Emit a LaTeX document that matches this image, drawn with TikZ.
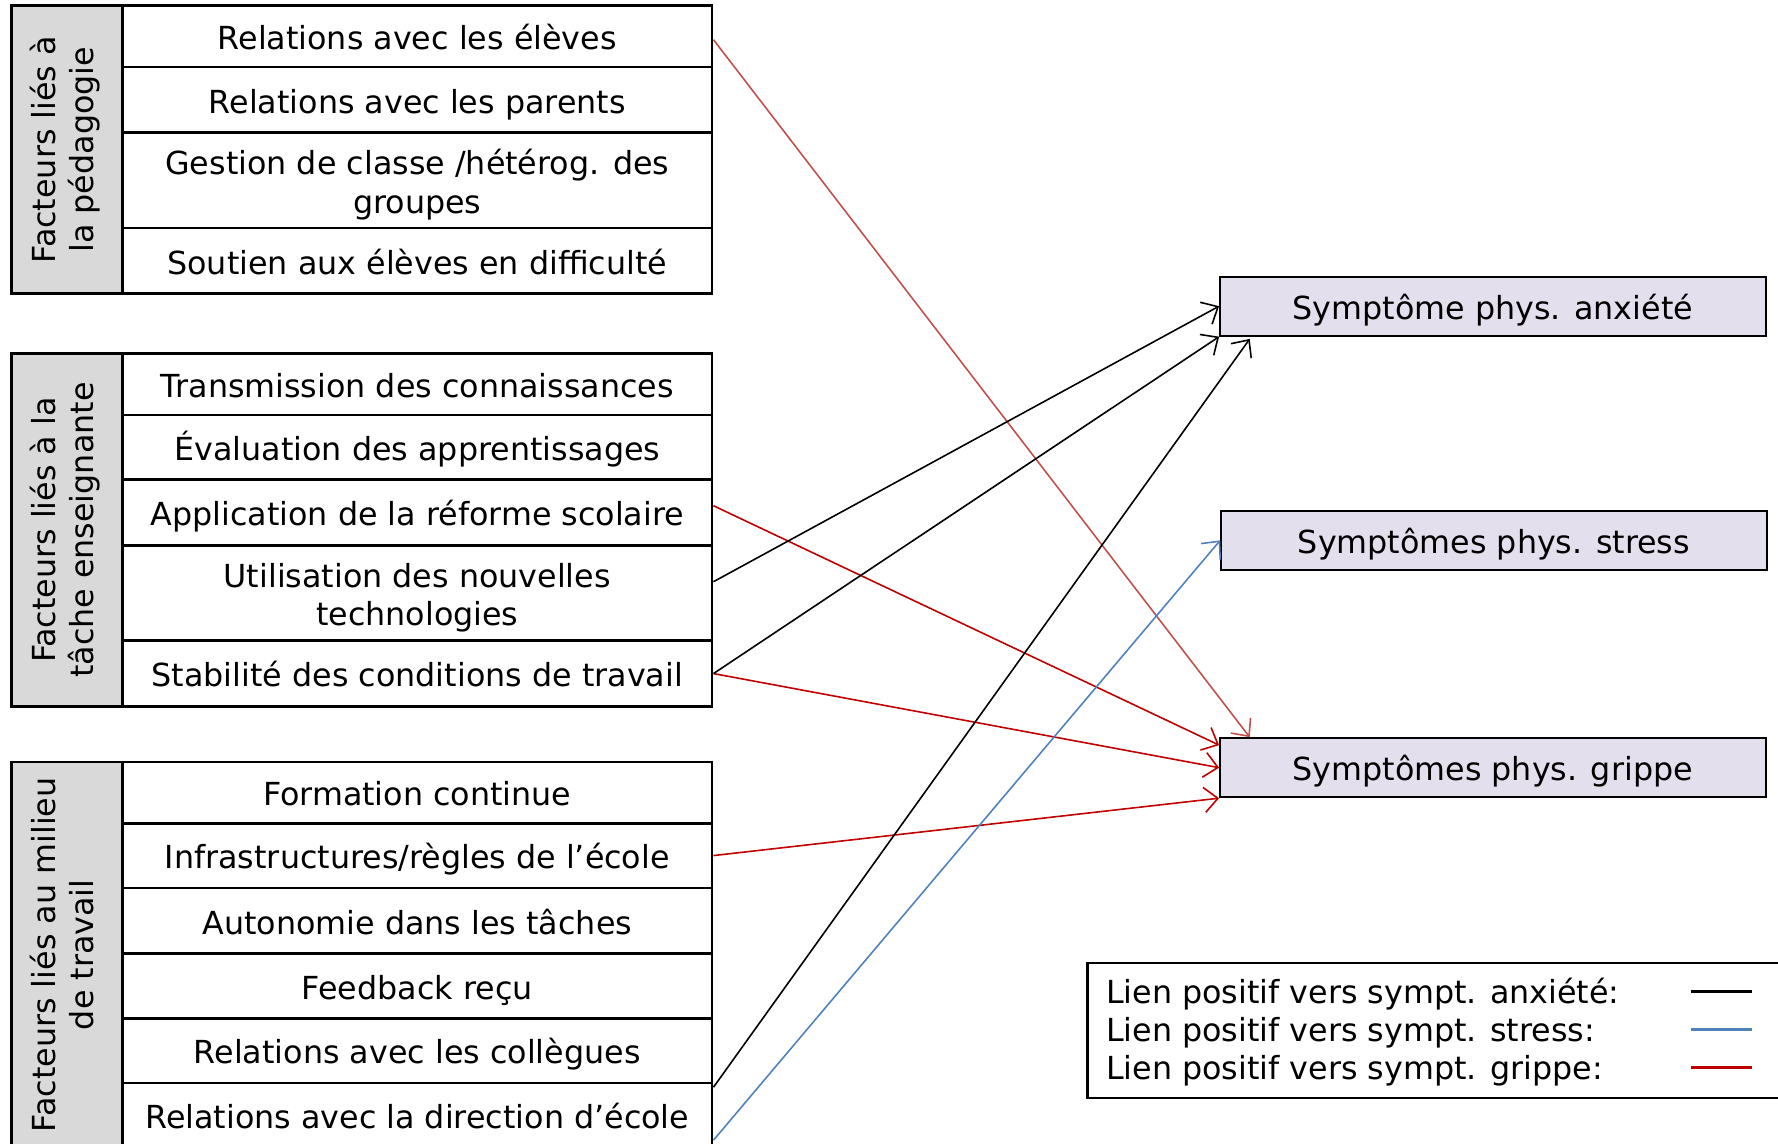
\documentclass[tikz,border=0pt]{standalone}
\usepackage{fontspec}
\setmainfont{DejaVu Sans}
\usepackage{graphicx}
\usetikzlibrary{arrows.meta,calc}
\definecolor{grayfill}{HTML}{D9D9D9}
\definecolor{lav}{HTML}{E4DFEC}
\definecolor{darkred}{HTML}{C00000}
\definecolor{lightred}{HTML}{C0504D}
\definecolor{linkblue}{HTML}{4F81BD}
\newcommand\rowat[5][]{\node[rowbox, #1, minimum height={(#4-#3)*0.5pt}] (#2) at (368,{(#3+#4)/2}) {#5};}
\newcommand\grpat[4]{\node[grouplabel, minimum height={(#3-#2)*0.5pt}] (#1) at (59,{(#2+#3)/2}) {\rotatebox{90}{\begin{tabular}{@{}c@{}}#4\end{tabular}}};}
\newcommand\twol[2]{\raisebox{-2.7pt}[\height][\depth]{\begin{tabular}{@{}c@{}}#1\\#2\end{tabular}}}
\begin{document}
\begin{tikzpicture}[x=0.5pt,y=-0.5pt, font=\fontsize{14pt}{16.8pt}\selectfont,
 rowbox/.style={draw, line width=1.2pt, minimum width=260pt, inner sep=0pt, text height=11.7pt, text depth=0pt},
 twoline/.style={text height={}, text depth={}},
 grouplabel/.style={draw, line width=1.2pt, fill=grayfill, minimum width=49pt, inner sep=0pt},
 symbox/.style={draw, line width=0.9pt, fill=lav, minimum width=240.5pt, minimum height=26pt, inner sep=0pt, text height=11.7pt, text depth=0pt},
 link/.style={line width=0.7pt, -{Straight Barb[length=6pt,width=11pt]}},
 legline/.style={line width=1.3pt},
 legtext/.style={anchor=base west, inner sep=0pt},
]
\useasboundingbox (0,0) rectangle (1568,1008);
\clip (0,0) rectangle (1568,1008);

% group 1
\grpat{g1}{5}{259}{Facteurs liés à\\la pédagogie}
\rowat{r11}{5}{59}{Relations avec les élèves}
\rowat{r12}{59}{117}{Relations avec les parents}
\rowat[twoline]{r13}{117}{201}{\twol{Gestion de classe /hétérog. des}{groupes}}
\rowat{r14}{201}{259}{Soutien aux élèves en difficulté}

% group 2
\grpat{g2}{312}{623}{Facteurs liés à la\\tâche enseignante}
\rowat{r21}{312}{366}{Transmission des connaissances}
\rowat{r22}{366}{423}{Évaluation des apprentissages}
\rowat{r23}{423}{481}{Application de la réforme scolaire}
\rowat[twoline]{r24}{481}{565}{\twol{Utilisation des nouvelles}{technologies}}
\rowat{r25}{565}{623}{Stabilité des conditions de travail}

% group 3
\grpat{g3}{672}{1012}{Facteurs liés au milieu\\de travail}
\rowat{r31}{672}{726}{Formation continue}
\rowat{r32}{726}{783}{Infrastructures/règles de l’école}
\rowat{r33}{783}{841}{Autonomie dans les tâches}
\rowat{r34}{841}{898}{Feedback reçu}
\rowat{r35}{898}{955}{Relations avec les collègues}
\rowat{r36}{955}{1012}{Relations avec la direction d’école}

% symptoms
\node[symbox] (anx) at (1316.5,270) {Symptôme phys. anxiété};
\node[symbox] (str) at (1317.5,476.5) {Symptômes phys. stress};
\node[symbox] (gri) at (1316.5,677) {Symptômes phys. grippe};

% links
\draw[link, lightred] ([yshift=-1.5pt]r11.east) -- ($(gri.north west)+(27,0)$);
\draw[link, darkred] ([yshift=3pt]r23.east) -- ($(gri.north west)+(0,7)$);
\draw[link, darkred] (r25.east) -- (gri.west);
\draw[link, darkred] (r32.east) -- (gri.south west);
\draw[link, black] ([yshift=5pt]r24.east) -- (anx.west);
\draw[link, black] (r25.east) -- (anx.south west);
\draw[link, black] ($(r36.north east)+(0,5)$) -- ($(anx.south west)+(27,2)$);
\draw[link, linkblue] ($(r36.east)+(0,22)$) -- (str.west);

% legend
\node[draw, line width=1pt, minimum width=316pt, minimum height=59.5pt, anchor=north west, inner sep=0pt] (legend) at (958,848) {};
\node[legtext] (t1) at (975,885) {Lien positif vers sympt. anxiété:};
\node[legtext] (t2) at (975,918.5) {Lien positif vers sympt. stress:};
\node[legtext] (t3) at (975,952) {Lien positif vers sympt. grippe:};
\coordinate (a1) at (1491,874); \coordinate (b1) at (1545,874);
\coordinate (a2) at (1491,908); \coordinate (b2) at (1545,908);
\coordinate (a3) at (1491,941); \coordinate (b3) at (1545,941);
\draw[legline, black] (a1) -- (b1);
\draw[legline, linkblue] (a2) -- (b2);
\draw[legline, darkred] (a3) -- (b3);
\end{tikzpicture}
\end{document}
